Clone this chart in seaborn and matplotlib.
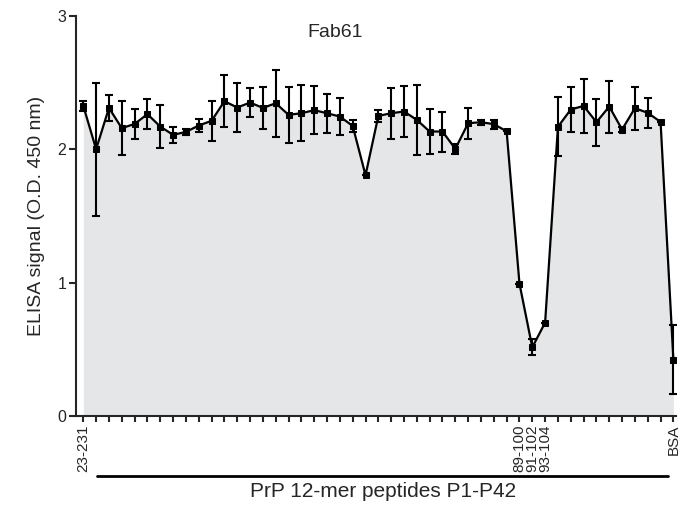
import numpy as np
import pandas as pd
import matplotlib
matplotlib.use("Agg")
import matplotlib.pyplot as plt
import matplotlib.transforms as mtransforms
import seaborn as sns

# ---- data ----
positions = list(range(47))
signal = [2.325, 2.00, 2.31, 2.158, 2.19, 2.263, 2.17, 2.108, 2.13, 2.178,
          2.213, 2.36, 2.313, 2.35, 2.31, 2.345, 2.258, 2.27, 2.293, 2.27,
          2.245, 2.175, 1.805, 2.25, 2.27, 2.283, 2.22, 2.133, 2.133, 2.003,
          2.195, 2.203, 2.188, 2.135, 0.993, 0.515, 0.70, 2.168, 2.298, 2.325,
          2.203, 2.32, 2.148, 2.308, 2.273, 2.205, 0.422]
error = [0.04, 0.50, 0.10, 0.20, 0.11, 0.11, 0.16, 0.06, 0.02, 0.05,
         0.15, 0.195, 0.18, 0.11, 0.16, 0.25, 0.21, 0.21, 0.18, 0.145,
         0.14, 0.045, 0.0, 0.045, 0.19, 0.19, 0.26, 0.17, 0.15, 0.035,
         0.115, 0.02, 0.035, 0.0, 0.0, 0.06, 0.0, 0.22, 0.17, 0.20,
         0.175, 0.195, 0.02, 0.16, 0.11, 0.0, 0.26]
tick_labels = {0: "23-231", 34: "89-100", 35: "91-102", 36: "93-104", 46: "BSA"}
title = "Fab61"
ylabel = "ELISA signal (O.D. 450 nm)"
group_label = "PrP 12-mer peptides P1-P42"

df = pd.DataFrame({"pos": positions, "signal": signal, "err": error})

sns.set_style("ticks")
plt.rcParams["font.family"] = ["Liberation Sans", "DejaVu Sans"]

fig = plt.figure(figsize=(6.94, 5.12), dpi=100)
ax = fig.add_axes([0.1095, 0.1875, 0.8645, 0.7815])

ax.fill_between(df["pos"], 0, df["signal"], color="#e5e6e8", zorder=1, linewidth=0)
ax.errorbar(df["pos"], df["signal"], yerr=df["err"], fmt="none", ecolor="black",
            elinewidth=1.5, capsize=3.2, capthick=1.5, zorder=3)
sns.lineplot(data=df, x="pos", y="signal", ax=ax, color="black", linewidth=1.6,
             marker="s", markersize=5, markeredgecolor="black", zorder=4)

ax.set_xlim(-0.57, 46.2)
ax.set_ylim(0, 3)
ax.set_yticks([0, 1, 2, 3])
ax.set_yticklabels(["0", "1", "2", "3"], fontsize=11.5)
ax.set_xticks(positions)
ax.set_xticklabels([tick_labels.get(p, "") for p in positions], rotation=90,
                   fontsize=11)
ax.tick_params(axis="x", length=4, width=1.5, pad=2)
ax.tick_params(axis="y", length=5, width=1.5, pad=2)
for s in ["top", "right"]:
    ax.spines[s].set_visible(False)
for s in ["left", "bottom"]:
    ax.spines[s].set_linewidth(1.5)

ax.set_xlabel("")
ax.set_ylabel(ylabel, fontsize=14, labelpad=9)
ax.text(0.432, 0.9575, title, transform=ax.transAxes, ha="center", va="center",
        fontsize=14)

trans = mtransforms.blended_transform_factory(ax.transData, ax.transAxes)
ax.plot([1.1, 45.6], [-0.15, -0.15], transform=trans, color="black",
        linewidth=2, clip_on=False)
ax.text(23.35, -0.2033, group_label, transform=trans, ha="center", va="baseline",
        fontsize=15)

fig.savefig("out.png", dpi=100)
